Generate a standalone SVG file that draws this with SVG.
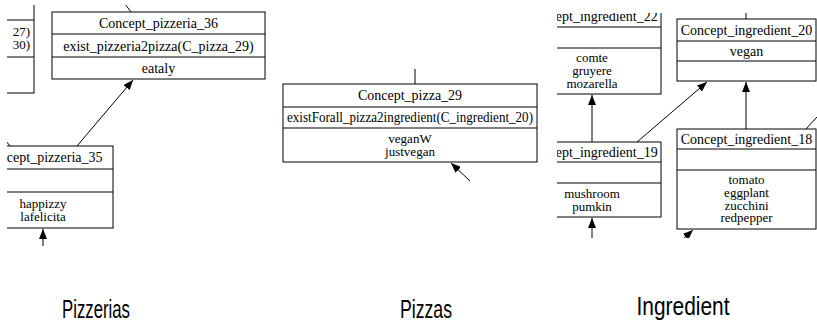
<svg xmlns="http://www.w3.org/2000/svg" width="817" height="325" viewBox="0 0 817 325">
<style>
.box{fill:#fff;stroke:#000;stroke-width:1}
.sep{stroke:#000;stroke-width:1}
.t{font-family:"Liberation Serif","Times New Roman",serif;font-size:14px;text-anchor:middle;fill:#000}
.c{font-family:"Liberation Serif","Times New Roman",serif;font-size:13px;text-anchor:middle;fill:#000}
.e{stroke:#000;stroke-width:1;fill:none}
.cap{font-family:"Liberation Sans",Arial,sans-serif;font-size:26px;text-anchor:middle;fill:#000}
</style>
<defs>
<marker id="ah" markerUnits="userSpaceOnUse" markerWidth="10" markerHeight="8" refX="10" refY="4" orient="auto" viewBox="0 0 10 8">
<path d="M0,0 L10,4 L0,8 z" fill="#000"/>
</marker>
<clipPath id="cpz"><rect x="7" y="5" width="265" height="241"/></clipPath>
<clipPath id="cpi"><rect x="282" y="69" width="258" height="112"/></clipPath>
<clipPath id="cin"><rect x="557" y="13" width="260" height="225"/></clipPath>
</defs>
<rect width="817" height="325" fill="#fff"/>

<g id="edges">
<g clip-path="url(#cpz)">
<line class="e" x1="122" y1="0" x2="131" y2="12"/>
<line class="e" x1="77" y1="146" x2="133" y2="80" marker-end="url(#ah)"/>
<line class="e" x1="6" y1="141" x2="10" y2="146"/>
<line class="e" x1="43" y1="246" x2="43" y2="229" marker-end="url(#ah)"/>
</g>
<g clip-path="url(#cpi)">
<line class="e" x1="415" y1="69" x2="415" y2="84"/>
<line class="e" x1="470" y1="181" x2="451" y2="163" marker-end="url(#ah)"/>
</g>
<g clip-path="url(#cin)">
<line class="e" x1="592" y1="142" x2="592" y2="95" marker-end="url(#ah)"/>
<line class="e" x1="592" y1="240" x2="592" y2="218" marker-end="url(#ah)"/>
<line class="e" x1="637" y1="142" x2="707" y2="82" marker-end="url(#ah)"/>
<line class="e" x1="746" y1="0" x2="746" y2="19"/>
<line class="e" x1="746" y1="129" x2="746" y2="82" marker-end="url(#ah)"/>
<line class="e" x1="806" y1="129" x2="817" y2="117"/>
<line class="e" x1="682" y1="240" x2="693" y2="230" marker-end="url(#ah)"/>
</g>
</g>

<g clip-path="url(#cpz)">
<g id="pizzeria_left">
<rect class="box" x="-200" y="-5" width="234" height="98"/>
<line class="sep" x1="-200" y1="20" x2="34" y2="20"/>
<line class="sep" x1="-200" y1="57" x2="34" y2="57"/>
<text class="c" x="30" y="36" style="text-anchor:end">27)</text>
<text class="c" x="30" y="49" style="text-anchor:end">30)</text>
</g>

<g id="Concept_pizzeria_36">
<rect class="box" x="52" y="12" width="213" height="67"/>
<line class="sep" x1="52" y1="34" x2="265" y2="34"/>
<line class="sep" x1="52" y1="57" x2="265" y2="57"/>
<text class="t" x="158.5" y="28">Concept_pizzeria_36</text>
<text class="t" x="158.5" y="51">exist_pizzeria2pizza(C_pizza_29)</text>
<text class="t" x="158.5" y="73">eataly</text>
</g>

<g id="Concept_pizzeria_35">
<rect class="box" x="-27" y="146" width="140" height="82"/>
<line class="sep" x1="-27" y1="169" x2="113" y2="169"/>
<line class="sep" x1="-27" y1="192" x2="113" y2="192"/>
<text class="t" x="43" y="162">Concept_pizzeria_35</text>
<text class="c" x="43" y="208">happizzy</text>
<text class="c" x="43" y="221">lafelicita</text>
</g>
</g>

<g clip-path="url(#cpi)">
<g id="Concept_pizza_29">
<rect class="box" x="283" y="84" width="254" height="78"/>
<line class="sep" x1="283" y1="107" x2="537" y2="107"/>
<line class="sep" x1="283" y1="128" x2="537" y2="128"/>
<text class="t" x="410" y="100">Concept_pizza_29</text>
<text class="t" x="410" y="122" textLength="246" lengthAdjust="spacingAndGlyphs">existForall_pizza2ingredient(C_ingredient_20)</text>
<text class="c" x="410" y="143">veganW</text>
<text class="c" x="410" y="156">justvegan</text>
</g>
</g>

<g clip-path="url(#cin)">
<g id="Concept_ingredient_22">
<rect class="box" x="523" y="-5" width="138" height="99"/>
<line class="sep" x1="523" y1="27" x2="661" y2="27"/>
<line class="sep" x1="523" y1="48" x2="661" y2="48"/>
<text class="t" x="592" y="21">Concept_ingredient_22</text>
<text class="c" x="592" y="62">comte</text>
<text class="c" x="592" y="75">gruyere</text>
<text class="c" x="592" y="88">mozarella</text>
</g>

<g id="Concept_ingredient_20">
<rect class="box" x="677" y="19" width="139" height="62"/>
<line class="sep" x1="677" y1="41" x2="816" y2="41"/>
<line class="sep" x1="677" y1="61" x2="816" y2="61"/>
<text class="t" x="746.5" y="35">Concept_ingredient_20</text>
<text class="t" x="746.5" y="56">vegan</text>
</g>

<g id="Concept_ingredient_19">
<rect class="box" x="523" y="142" width="138" height="75"/>
<line class="sep" x1="523" y1="162" x2="661" y2="162"/>
<line class="sep" x1="523" y1="183" x2="661" y2="183"/>
<text class="t" x="592" y="157">Concept_ingredient_19</text>
<text class="c" x="592" y="198">mushroom</text>
<text class="c" x="592" y="211">pumkin</text>
</g>

<g id="Concept_ingredient_18">
<rect class="box" x="677" y="129" width="139" height="100"/>
<line class="sep" x1="677" y1="149" x2="816" y2="149"/>
<line class="sep" x1="677" y1="170" x2="816" y2="170"/>
<text class="t" x="746.5" y="144">Concept_ingredient_18</text>
<text class="c" x="746.5" y="184">tomato</text>
<text class="c" x="746.5" y="197">eggplant</text>
<text class="c" x="746.5" y="210">zucchini</text>
<text class="c" x="746.5" y="222">redpepper</text>
</g>
</g>

<g id="captions">
<text class="cap" x="96" y="318" textLength="68" lengthAdjust="spacingAndGlyphs">Pizzerias</text>
<text class="cap" x="426" y="318" textLength="52" lengthAdjust="spacingAndGlyphs">Pizzas</text>
<text class="cap" x="683" y="315" textLength="93" lengthAdjust="spacingAndGlyphs">Ingredient</text>
</g>
</svg>
